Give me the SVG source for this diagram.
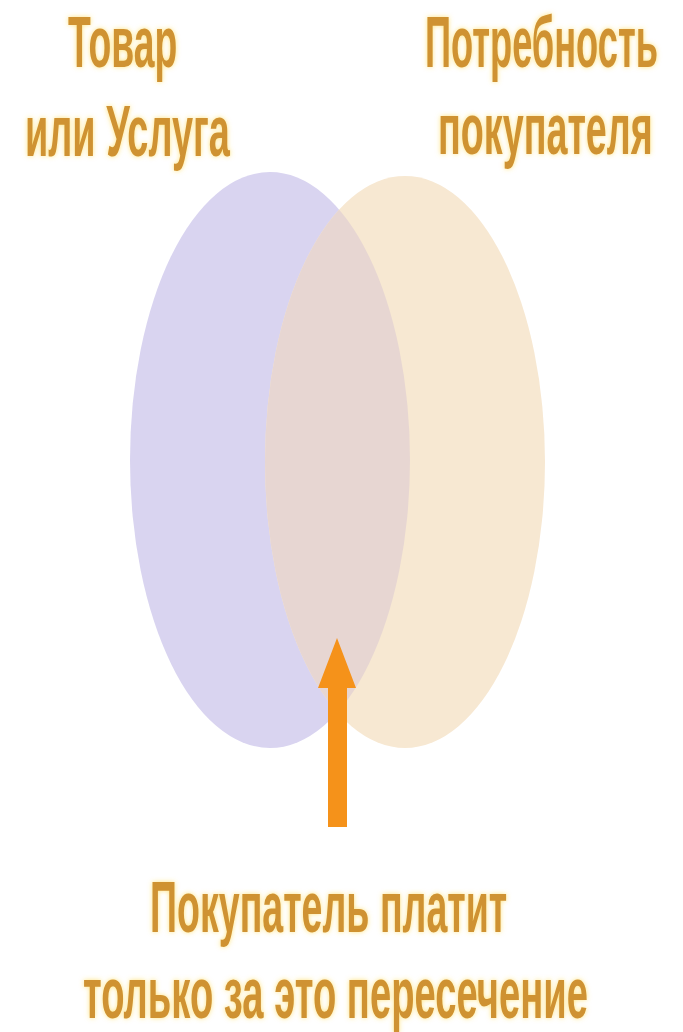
<svg xmlns="http://www.w3.org/2000/svg" width="683" height="1032" viewBox="0 0 683 1032">
  <defs>
    <style>
      .lbl { font-family: "Liberation Sans", Arial, sans-serif; font-weight: bold; font-size: 72px; fill: #cf9232; }
    </style>
    <filter id="glow" x="-5%" y="-30%" width="110%" height="160%">
      <feGaussianBlur in="SourceAlpha" stdDeviation="2.5" result="b"/>
      <feFlood flood-color="#ffd84a" flood-opacity="0.7"/>
      <feComposite in2="b" operator="in" result="g"/>
      <feMerge><feMergeNode in="g"/><feMergeNode in="SourceGraphic"/></feMerge>
    </filter>
    <clipPath id="clipLeft">
      <ellipse cx="270" cy="460" rx="140" ry="288"/>
    </clipPath>
  </defs>
  <rect width="683" height="1032" fill="#ffffff"/>

  <g id="product">
    <ellipse cx="270" cy="460" rx="140" ry="288" fill="#d9d4f0"/>
  </g>
  <g id="need">
    <ellipse cx="405" cy="462" rx="140" ry="286" fill="#f7e8d2"/>
  </g>
  <g id="intersection">
    <ellipse cx="405" cy="462" rx="140" ry="286" fill="#e7d6d2" clip-path="url(#clipLeft)"/>
  </g>

  <g id="connectors">
    <polygon points="328,827 347,827 347,688 356,688 337,638 318,688 328,688" fill="#f5921a"/>
  </g>

  <g id="label-product" filter="url(#glow)">
    <text class="lbl" transform="translate(68,67) scale(0.52,1)" x="0" y="0" textLength="210" lengthAdjust="spacingAndGlyphs">Товар</text>
    <text class="lbl" transform="translate(25,156) scale(0.52,1)" x="0" y="0" textLength="394" lengthAdjust="spacingAndGlyphs">или Услуга</text>
  </g>
  <g id="label-need" filter="url(#glow)">
    <text class="lbl" transform="translate(425,67) scale(0.52,1)" x="0" y="0" textLength="448" lengthAdjust="spacingAndGlyphs">Потребность</text>
    <text class="lbl" transform="translate(438,154) scale(0.52,1)" x="0" y="0" textLength="413" lengthAdjust="spacingAndGlyphs">покупателя</text>
  </g>
  <g id="label-bottom" filter="url(#glow)">
    <text class="lbl" transform="translate(150,932) scale(0.52,1)" x="0" y="0" textLength="687" lengthAdjust="spacingAndGlyphs">Покупатель платит</text>
    <text class="lbl" transform="translate(83,1018) scale(0.52,1)" x="0" y="0" textLength="971" lengthAdjust="spacingAndGlyphs">только за это пересечение</text>
  </g>
</svg>
